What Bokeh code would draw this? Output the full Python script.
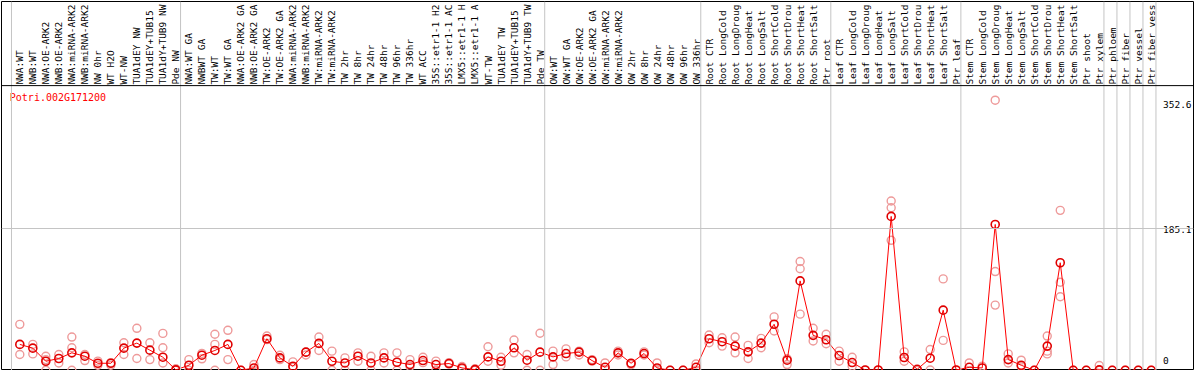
import math
from bokeh.plotting import figure
from bokeh.models import ColumnDataSource, Span, Range1d
from bokeh.core.properties import value
from bokeh.embed import file_html
from bokeh.resources import INLINE

gene = "Potri.002G171200"

labels = [
    "NWA:WT", "NWB:WT", "NWA:OE-ARK2", "NWB:OE-ARK2", "NWA:miRNA-ARK2", "NWB:miRNA-ARK2",
    "NW 0hr", "WT H2O", "WT-NW", "TUA1dEY NW", "TUA1dEY+TUB15", "TUA1dY+TUB9 NW", "Pde NW",
    "NWA:WT GA", "NWBWT GA", "TW:WT", "TW:WT GA", "NWA:OE-ARK2 GA", "NWB:OE-ARK2 GA",
    "TW:OE-ARK2", "TW:OE-ARK2 GA", "NWA:miRNA-ARK2", "NWB:miRNA-ARK2", "TW:miRNA-ARK2",
    "TW:miRNA-ARK2", "TW 2hr", "TW 8hr", "TW 24hr", "TW 48hr", "TW 96hr", "TW 336hr",
    "WT ACC", "35S::etr1-1 H2", "35S::etr1-1 AC", "LMX5::etr1-1 H", "LMX5::etr1-1 A",
    "WT-TW", "TUA1dEY TW", "TUA1dEY+TUB15", "TUA1dY+TUB9 TW", "Pde TW",
    "OW:WT", "OW:WT GA", "OW:OE-ARK2", "OW:OE-ARK2 GA", "OW:miRNA-ARK2", "OW:miRNA-ARK2",
    "OW 2hr", "OW 8hr", "OW 24hr", "OW 48hr", "OW 96hr", "OW 336hr",
    "Root CTR", "Root LongCold", "Root LongDroug", "Root LongHeat", "Root LongSalt",
    "Root ShortCold", "Root ShortDrou", "Root ShortHeat", "Root ShortSalt", "Ptr root",
    "Leaf CTR", "Leaf LongCold", "Leaf LongDroug", "Leaf LongHeat", "Leaf LongSalt",
    "Leaf ShortCold", "Leaf ShortDrou", "Leaf ShortHeat", "Leaf ShortSalt", "Ptr leaf",
    "Stem CTR", "Stem LongCold", "Stem LongDroug", "Stem LongHeat", "Stem LongSalt",
    "Stem ShortCold", "Stem ShortDrou", "Stem ShortHeat", "Stem ShortSalt", "Ptr shoot",
    "Ptr xylem", "Ptr phloem", "Ptr fiber", "Ptr vessel", "Ptr fiber vess",
]

means = [
    33.8, 28.9, 11.8, 15.4, 22.8, 18.4, 9.2, 9.2, 28.9, 35.5, 26.3, 17.1, 0.5,
    6.6, 19.7, 25.9, 33.8, 0.0, 3.1, 41.2, 16.2, 5.3, 23.7, 35.1, 11.8, 9.6, 18.4,
    9.6, 16.2, 10.5, 7.5, 12.7, 7.5, 8.8, 3.1, 0.9, 17.5, 11.8, 29.4, 13.2, 23.7,
    17.5, 21.9, 23.7, 12.7, 3.9, 22.8, 9.2, 21.9, 3.1, 0.0, 0.0, 3.9,
    41.2, 37.3, 31.6, 24.1, 35.5, 60.1, 13.2, 116.7, 45.6, 39.9,
    19.3, 10.1, 0.4, 0.4, 200.9, 16.7, 1.3, 15.8, 78.5, 0.4,
    3.9, 3.1, 190.4, 14.0, 6.6, 0.0, 31.6, 140.4, 0.0, 0.0,
    0.5, 0.0, 0.0, 0.0, 0.0,
]

nan = float("nan")
rep_a = [
    60.0, 33.8, 18.4, 20.6, 43.4, 20.6, 6.6, 6.6, 36.0, 54.8, 36.0, 48.2, 0.0,
    14.0, 22.0, 47.0, 52.2, 0.0, 7.5, 44.7, 19.7, 11.0, 23.7, 43.4, 25.0, 16.2, 22.8,
    18.4, 22.8, 22.8, 14.0, 17.1, 12.0, 10.0, 5.0, 2.0, 30.7, 17.0, 39.5, 20.6, 48.3,
    25.0, 28.0, 25.0, 12.0, 9.6, 25.0, 7.5, 24.0, 9.6, 0.0, 0.0, 8.3,
    46.0, 42.5, 43.4, 32.5, 41.7, 69.7, 7.5, 142.0, 54.8, 47.0,
    25.0, 17.1, 0.0, 0.0, 221.0, 24.1, 0.0, 27.2, 119.3, 0.0,
    9.6, 5.3, 352.6, 21.4, 13.2, 0.0, 44.7, 208.8, 0.0, 0.0,
    6.2, 0.0, 0.0, 0.0, 0.0,
]
rep_b = [
    20.6, 21.4, 0.0, 9.6, 29.4, 12.7, 12.0, 10.0, 20.6, 15.4, 14.0, 29.4, 2.0,
    0.0, 15.0, 33.8, 14.0, nan, 0.0, 40.0, 14.0, 3.9, 20.0, 25.9, 0.0, 0.0, 11.8,
    0.0, 9.6, 0.0, 5.0, 10.0, 0.0, 8.0, 2.0, 0.0, 11.8, 6.6, 22.8, 0.0, 0.0,
    7.5, 17.5, 20.0, 14.0, 1.0, 20.0, 9.0, 20.0, 1.0, nan, nan, 0.0,
    36.0, 31.6, 22.8, 15.4, 29.4, 51.3, 15.0, 132.5, 38.2, 34.6,
    11.8, 5.3, nan, nan, 212.2, 11.8, nan, 0.4, 39.0, nan,
    nan, nan, 128.9, 9.6, 5.0, nan, 25.0, 114.9, nan, nan,
    0.0, nan, nan, nan, nan,
]
rep_c = [
    nan, nan, 14.0, nan, 0.0, nan, nan, nan, nan, nan, nan, 9.6, nan,
    nan, nan, 0.0, nan, nan, nan, nan, nan, nan, nan, nan, nan, nan, nan,
    nan, nan, nan, nan, nan, nan, nan, nan, nan, nan, nan, nan, nan, nan,
    nan, nan, nan, nan, nan, nan, nan, nan, nan, nan, nan, nan,
    nan, nan, nan, nan, nan, nan, nan, 73.3, nan, nan,
    nan, nan, nan, nan, 169.7, nan, nan, nan, nan, nan,
    nan, nan, 85.1, nan, nan, nan, 21.4, 96.0, nan, nan,
    nan, nan, nan, nan, nan,
]

group_bounds = [0, 13, 41, 53, 63, 73, 84, 85, 86, 87, 88]
y_tick_labels = ["352.6", "185.1", "0"]
grid_value = 185.1

# ---- layout helpers (reference-pixel -> data) ----
PX0 = 369.3     # pixel row of value 0
PXS = 0.765     # pixels per unit


def vy(px):
    return (PX0 - px) / PXS


def vx(px):
    return (px - 19.3) / 13.0


W, H = 1194, 370
p = figure(width=W, height=H, output_backend="svg", toolbar_location=None,
           x_axis_type=None, y_axis_type=None,
           x_range=Range1d(vx(1), vx(1192.5)), y_range=Range1d(vy(369.5), vy(1)),
           min_border_left=1, min_border_right=1, min_border_top=1, min_border_bottom=0)
p.title.visible = False
p.xgrid.visible = False
p.ygrid.visible = False
p.outline_line_color = "black"
p.outline_line_width = 1
p.background_fill_color = "white"
p.border_fill_color = "white"

# separators
for b in group_bounds:
    p.add_layout(Span(location=b - 0.64, dimension="height", line_color="#c4c4c4", line_width=1))
# grid line
p.add_layout(Span(location=grid_value, dimension="width", line_color="#c4c4c4", line_width=1))
# header divider
p.add_layout(Span(location=vy(85), dimension="width", line_color="black", line_width=1))

mono = value("DejaVu Sans Mono")

# column labels (rotated)
idx = list(range(len(labels)))
lab_src = ColumnDataSource(dict(x=idx, y=[vy(84)] * len(labels), text=labels))
p.text(x="x", y="y", text="text", source=lab_src, angle=math.pi / 2,
       text_align="left", text_baseline="middle", text_font=mono,
       text_font_size="9.5px", text_color="black")

# title
p.text(x=[vx(9.3)], y=[vy(91.5)], text=[gene], text_font=mono, text_font_size="10px",
       text_color="#ff0000", text_align="left", text_baseline="top")

# right tick labels
tick_px = [100.5, 225.5, 356.0]
p.text(x=[vx(1162)] * 3, y=[vy(t) for t in tick_px], text=y_tick_labels, text_font=mono,
       text_font_size="9.5px", text_color="black", text_align="left", text_baseline="top")

# replicates
rx, ry = [], []
for arr in (rep_a, rep_b, rep_c):
    for i, v in enumerate(arr):
        if not math.isnan(v):
            rx.append(i)
            ry.append(v)
rep_src = ColumnDataSource(dict(x=rx, y=ry))
p.scatter(x="x", y="y", source=rep_src, marker="circle", size=8, fill_color=None,
          line_color="#ee9a9a", line_width=1.4)

# mean line and markers
mean_src = ColumnDataSource(dict(x=idx, y=means))
p.line(x="x", y="y", source=mean_src, line_color="#ff0000", line_width=1)
p.scatter(x="x", y="y", source=mean_src, marker="circle", size=8, fill_color=None,
          line_color="#e00000", line_width=1.6)

open("out.html", "w").write(file_html(p, INLINE))
